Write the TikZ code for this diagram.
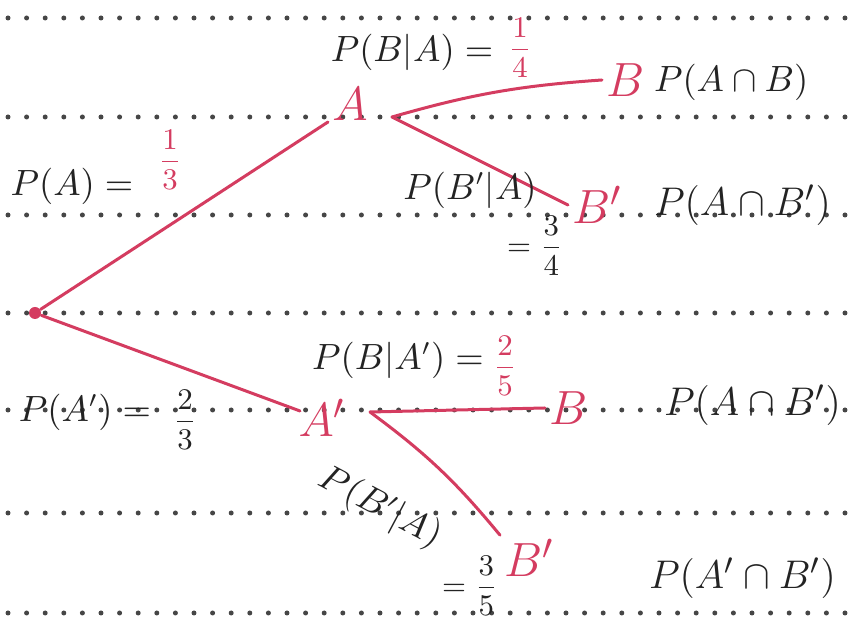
\documentclass[tikz,border=0pt]{standalone}
\usepackage{amsmath}
\definecolor{pen}{RGB}{35,35,35}
\definecolor{ink}{RGB}{212,60,96}
\definecolor{rule}{RGB}{70,70,70}
\begin{document}
\begin{tikzpicture}[x=0.3pt,y=-0.3pt,
    branch/.style={ink, line width=0.9pt, line cap=round},
    dotrow/.style={rule, line width=1.5pt, line cap=round, dash pattern=on 0pt off 5.58pt},
    lbl/.style={pen, inner sep=1pt, font=\fontsize{10.5}{12}\selectfont},
    big/.style={pen, inner sep=1pt, font=\fontsize{12.5}{14}\selectfont},
    ev/.style={ink, inner sep=1pt, font=\fontsize{15}{17}\selectfont},
    prob/.style={inner sep=0pt, font=\fontsize{9.5}{11}\selectfont}
  ]
  \useasboundingbox (0,0) rectangle (851,623);

  % ruled paper
  \foreach \y in {18,117,215,313,410,513,613}
    \draw[dotrow] (8,\y) -- (848,\y);

  % start of the tree
  \node[circle, fill=ink, inner sep=0pt, minimum size=3.6pt] (root) at (35,313) {};

  % first stage
  \node[ev] (A) at (350,104) {$A$};
  \node[ev] (Ac) at (322,418) {$A'$};
  \coordinate (A-in) at (328,122);
  \coordinate (A-out) at (392,117);
  \coordinate (Ac-in) at (300,411);
  \coordinate (Ac-out) at (370,412);

  % second stage
  \node[ev, anchor=west] (AB) at (602,80) {$B$};
  \node[ev, anchor=west] (ABc) at (568,205) {$B'$};
  \node[ev, anchor=west] (AcB) at (545,408) {$B$};
  \node[ev, anchor=west] (AcBc) at (500,558) {$B'$};

  % branches
  \draw[branch] (root) -- (A-in);
  \draw[branch] (root) -- (Ac-in);
  \draw[branch] (A-out) to[bend left=6] (AB.west);
  \draw[branch] (A-out) -- (ABc.west);
  \draw[branch] (Ac-out) -- (AcB.west);
  \draw[branch] (Ac-out) to[bend left=7] (AcBc.north west);

  % branch probabilities
  \node[lbl] (pA) at (72,186) {$P(A)=$};
  \node[prob, ink] (pAv) at (170,160) {$\dfrac{1}{3}$};
  \node[lbl] (pAc) at (85,412) {$P(A')=$};
  \node[prob, pen] (pAcv) at (185,420) {$\dfrac{2}{3}$};

  \node[lbl] (pBA) at (412,52) {$P(B|A)=$};
  \node[prob, ink] (pBAv) at (520,48) {$\dfrac{1}{4}$};
  \node[lbl] (pBcA) at (470,190) {$P(B'|A)$};
  \node[prob, pen] (pBcAv) at (535,246) {$=\dfrac{3}{4}$};

  \node[lbl] (pBAc) at (398,360) {$P(B|A')=$};
  \node[prob, ink] (pBAcv) at (505,366) {$\dfrac{2}{5}$};
  \node[lbl, rotate=-28] (pBcAc) at (380,508) {$P(B'|A)$};
  \node[prob, pen] (pBcAcv) at (470,586) {$=\dfrac{3}{5}$};

  % joint probabilities
  \node[lbl, anchor=west] (jAB) at (650,82) {$P(A\cap B)$};
  \node[big, anchor=west] (jABc) at (650,205) {$P(A\cap B')$};
  \node[big, anchor=west] (jAcB) at (660,405) {$P(A\cap B')$};
  \node[big, anchor=west] (jAcBc) at (645,578) {$P(A'\cap B')$};
\end{tikzpicture}
\end{document}
